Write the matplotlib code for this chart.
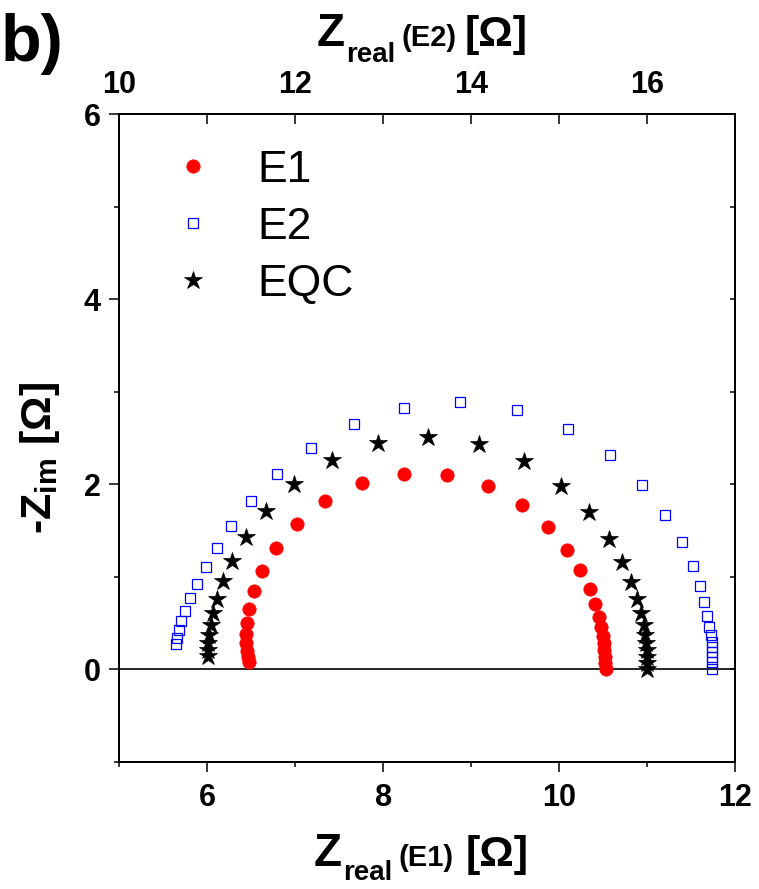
import matplotlib
matplotlib.use("Agg")
import matplotlib.pyplot as plt
from matplotlib.ticker import MultipleLocator, FixedLocator

# ---------------- data ----------------
e1_x = [6.478, 6.467, 6.455, 6.444, 6.444, 6.452, 6.475, 6.531, 6.626, 6.781, 7.017,
        7.342, 7.759, 8.237, 8.725, 9.188, 9.575, 9.870, 10.090, 10.241, 10.348,
        10.408, 10.454, 10.480, 10.496, 10.507, 10.514, 10.522, 10.525, 10.530]
e1_y = [0.082, 0.136, 0.201, 0.281, 0.381, 0.504, 0.655, 0.843, 1.065, 1.311, 1.573,
        1.822, 2.016, 2.113, 2.099, 1.977, 1.775, 1.538, 1.292, 1.070, 0.871,
        0.702, 0.565, 0.454, 0.360, 0.281, 0.209, 0.136, 0.065, 0.006]

e2_x = [10.641, 10.653, 10.675, 10.705, 10.747, 10.804, 10.883, 10.982, 11.111, 11.273,
        11.501, 11.793, 12.179, 12.665, 13.240, 13.877, 14.518, 15.098, 15.579, 15.946,
        16.207, 16.397, 16.519, 16.602, 16.651, 16.685, 16.708, 16.724, 16.735, 16.738,
        16.742, 16.742, 16.742, 16.742]
e2_y = [0.270, 0.341, 0.421, 0.519, 0.633, 0.767, 0.925, 1.102, 1.314, 1.552,
        1.818, 2.107, 2.394, 2.650, 2.827, 2.885, 2.805, 2.600, 2.312, 1.988,
        1.667, 1.372, 1.116, 0.900, 0.724, 0.579, 0.460, 0.371, 0.298, 0.244,
        0.190, 0.136, 0.082, 0.006]

eqc_x = [6.005, 6.008, 6.012, 6.023, 6.043, 6.069, 6.114, 6.179, 6.281, 6.440, 6.668,
         6.986, 7.418, 7.938, 8.513, 9.089, 9.604, 10.025, 10.340, 10.567, 10.718,
         10.817, 10.886, 10.931, 10.962, 10.980, 10.991, 10.999, 11.003, 11.003, 11.003]
eqc_y = [0.144, 0.209, 0.281, 0.371, 0.479, 0.605, 0.763, 0.951, 1.167, 1.426, 1.710,
         1.999, 2.261, 2.442, 2.507, 2.434, 2.251, 1.981, 1.696, 1.408, 1.159,
         0.943, 0.760, 0.605, 0.479, 0.371, 0.281, 0.209, 0.136, 0.065, 0.006]

series_labels = ["E1", "E2", "EQC"]
bottom_ticks = [6, 8, 10, 12]
top_ticks = [10, 12, 14, 16]
left_ticks = [0, 2, 4, 6]

# ---------------- style ----------------
plt.rcParams['font.family'] = ['Liberation Sans', 'DejaVu Sans']
plt.rcParams['font.weight'] = 'bold'
plt.rcParams['mathtext.fontset'] = 'custom'
plt.rcParams['mathtext.rm'] = 'Liberation Sans:bold'
plt.rcParams['mathtext.bf'] = 'Liberation Sans:bold'
plt.rcParams['mathtext.it'] = 'Liberation Sans:bold'

W, H = 759, 889
fig = plt.figure(figsize=(W / 100, H / 100), dpi=100)
L, R, T, B = 119.3, 735.0, 114.0, 761.7
ax = fig.add_axes([L / W, 1 - B / H, (R - L) / W, (B - T) / H])

lw = 1.1
tick_fs = 22

ax.set_xlim(5, 12)
ax.set_ylim(-1, 6)
ax.xaxis.set_major_locator(FixedLocator(bottom_ticks))
ax.xaxis.set_minor_locator(FixedLocator([5, 7, 9, 11]))
ax.yaxis.set_major_locator(FixedLocator(left_ticks))
ax.yaxis.set_minor_locator(FixedLocator([-1, 1, 3, 5]))
ax.tick_params(which='major', direction='out', length=7.2, width=lw, labelsize=tick_fs)
ax.tick_params(axis='x', which='major', pad=8)
ax.tick_params(axis='y', which='major', pad=6)
ax.tick_params(which='minor', direction='out', length=3.6, width=lw)
for s in ax.spines.values():
    s.set_linewidth(lw)

ax.axhline(0, color='black', lw=1.2, zorder=1)

h1, = ax.plot(e1_x, e1_y, linestyle='none', marker='o', ms=9.6, color='#ff0000',
              mec='#ff0000', mew=0.5, label=series_labels[0], zorder=3)
h3, = ax.plot(eqc_x, eqc_y, linestyle='none', marker='*', ms=13.5, color='black',
              mec='black', mew=0.5, label=series_labels[2], zorder=3)

# top axis (E2)
ax2 = ax.twiny()
ax2.set_xlim(10, 17)
ax2.xaxis.set_major_locator(FixedLocator(top_ticks))
ax2.xaxis.set_minor_locator(FixedLocator([11, 13, 15, 17]))
ax2.tick_params(axis='x', which='both', direction='in', length=7.2, width=lw,
                labelsize=tick_fs, pad=10)
for s in ax2.spines.values():
    s.set_linewidth(lw)
h2, = ax2.plot(e2_x, e2_y, linestyle='none', marker='s', ms=7.0, mfc='none',
               mec='#0000ff', mew=0.9, label=series_labels[1], zorder=3)

# right ticks
ax3 = ax.twinx()
ax3.set_ylim(-1, 6)
ax3.yaxis.set_major_locator(MultipleLocator(1))
ax3.tick_params(axis='y', which='both', direction='in', length=3.6, width=lw,
                labelright=False)
for s in ax3.spines.values():
    s.set_linewidth(lw)

leg = ax3.legend([h1, h2, h3], series_labels, loc='upper left',
                 bbox_to_anchor=(159.5 / W, 1 - 150 / H), bbox_transform=fig.transFigure,
                 frameon=False, borderpad=0, borderaxespad=0, handlelength=1.5,
                 handletextpad=0.7, labelspacing=0.36,
                 prop={'family': 'Liberation Sans', 'weight': 'normal', 'size': 32})

# ---------------- composite labels ----------------
fig.canvas.draw()
renderer = fig.canvas.get_renderer()


def piece_label(pieces, x0, base):
    x = x0
    for txt, size, dy, gap in pieces:
        x += gap
        t = fig.text(x / W, 1 - (base + dy) / H, txt, fontsize=size, fontweight='bold',
                     ha='left', va='baseline')
        bb = t.get_window_extent(renderer)
        x += bb.width


piece_label([("Z", 33, 0, 0), ("real", 20, 14, 1), ("(E1)", 21, 0, 6), ("[Ω]", 31, 0, 12)],
            314, 866)
piece_label([("Z", 33, 0, 0), ("real", 20, 16, 1), ("(E2)", 21, 0, 6), ("[Ω]", 31, 0, 8)],
            317, 46)

fig.text(40 / W, 1 - 458 / H, r"-$\mathbf{Z}_{\mathbf{im}}$ [Ω]", fontsize=31,
         fontweight='bold', rotation=90, ha='center', va='center')

fig.text(1 / W, 1 - 61 / H, "b)", fontsize=48, fontweight='bold', ha='left', va='baseline')

fig.savefig("out.png", dpi=100)
